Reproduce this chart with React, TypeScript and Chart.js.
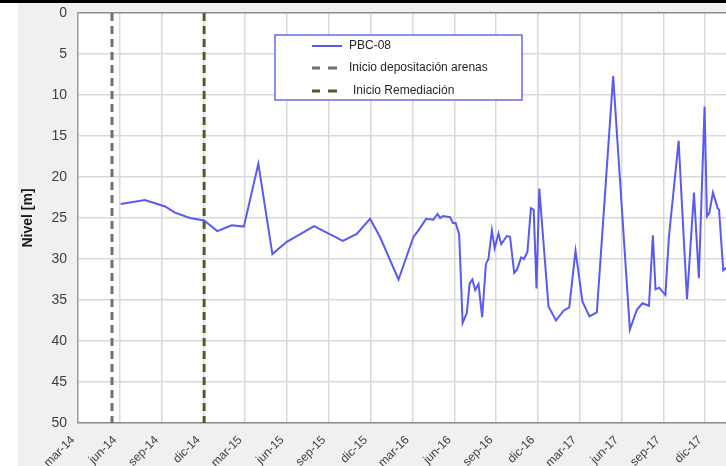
import React, { useEffect, useRef } from "react";
import { Chart, registerables } from "chart.js";

Chart.register(...registerables);

// x values: months elapsed since 1 March 2014
const tickLabels = [
  "mar-14", "jun-14", "sep-14", "dic-14",
  "mar-15", "jun-15", "sep-15", "dic-15",
  "mar-16", "jun-16", "sep-16", "dic-16",
  "mar-17", "jun-17", "sep-17", "dic-17",
];

const months = [
  3.06, 4.8, 6.25, 6.96, 8.04, 9.05, 10.0, 11.03, 11.9, 12.94,
  13.95, 14.98, 15.7, 16.94, 18.45, 19.0, 20.0, 20.96, 21.68, 23.0,
  24.07, 24.43, 24.98, 25.5, 25.8, 25.99, 26.2, 26.7, 26.9, 27.1,
  27.35, 27.6, 27.9, 28.1, 28.3, 28.5, 28.74, 29.0, 29.27, 29.45,
  29.7, 29.9, 30.17, 30.37, 30.77, 31.0, 31.3, 31.5, 31.8, 32.0,
  32.25, 32.5, 32.7, 32.9, 33.1, 33.76, 34.3, 34.84, 35.25, 35.7,
  36.2, 36.7, 37.23, 38.4, 39.6, 40.1, 40.5, 40.97, 41.25, 41.44,
  41.7, 42.15, 42.4, 43.1, 43.3, 43.7, 44.2, 44.55, 44.96, 45.13,
  45.3, 45.56, 45.9, 46.0, 46.3, 46.5, 46.9,
];

const levels = [
  23.3, 22.8, 23.6, 24.35, 25.0, 25.3, 26.6, 25.9, 26.05, 18.4,
  29.4, 27.9, 27.2, 26.0, 27.3, 27.8, 26.95, 25.1, 27.35, 32.5,
  27.3, 26.5, 25.1, 25.2, 24.5, 25.0, 24.75, 24.9, 25.6, 25.6,
  27.0, 37.8, 36.6, 33.0, 32.5, 33.8, 33.05, 37.1, 30.6, 30.0,
  26.5, 28.7, 26.9, 28.2, 27.2, 27.3, 31.7, 31.3, 29.8, 30.0,
  29.1, 23.8, 24.0, 33.6, 21.4, 35.8, 37.5, 36.3, 35.9, 29.0,
  35.2, 37.0, 36.5, 7.7, 38.6, 36.2, 35.4, 35.7, 27.1, 33.7,
  33.5, 34.4, 27.35, 15.6, 22.2, 34.9, 21.9, 32.35, 11.4, 24.8,
  24.4, 21.9, 23.8, 24.0, 31.4, 31.1, 31.0,
];

const depositionStart = [2.44];
const remediationStart = [9.05];
const yRange = [0, 50];
const xRange = [0, 47];

const seriesNames = ["PBC-08", "Inicio depositación arenas", "Inicio Remediación"];

const FONT = "'Liberation Sans', Arial, sans-serif";

const bgPlugin = {
  id: "bgPlugin",
  beforeDraw(chart: any) {
    const { ctx, width, height, chartArea } = chart;
    ctx.save();
    ctx.fillStyle = "#ffffff";
    ctx.fillRect(0, 0, width, height);
    ctx.fillStyle = "#f0f0f0";
    ctx.fillRect(18, 0, width - 18, height);
    ctx.fillStyle = "#000000";
    ctx.fillRect(0, 0, width, 3);
    ctx.fillStyle = "#ffffff";
    ctx.fillRect(chartArea.left, chartArea.top, chartArea.right - chartArea.left, chartArea.bottom - chartArea.top);
    ctx.restore();
  },
};

const legendPlugin = {
  id: "boxLegend",
  afterDraw(chart: any) {
    const { ctx } = chart;
    const bx = 275, by = 35, bw = 247, bh = 65;
    ctx.save();
    ctx.fillStyle = "#ffffff";
    ctx.fillRect(bx, by, bw, bh);
    ctx.strokeStyle = "#6a6aee";
    ctx.lineWidth = 1.5;
    ctx.strokeRect(bx, by, bw, bh);
    const rows = [46, 68, 91];
    const textX = [349, 349, 353];
    chart.data.datasets.forEach((ds: any, i: number) => {
      const y = rows[i];
      ctx.strokeStyle = ds.borderColor;
      ctx.lineWidth = i === 0 ? 2 : 3;
      ctx.setLineDash([]);
      ctx.beginPath();
      if (i === 0) {
        ctx.moveTo(312, y);
        ctx.lineTo(342, y);
      } else {
        ctx.moveTo(312, y);
        ctx.lineTo(320, y);
        ctx.moveTo(328, y);
        ctx.lineTo(337, y);
      }
      ctx.stroke();
      ctx.fillStyle = "#262626";
      ctx.font = `12px ${FONT}`;
      ctx.textBaseline = "middle";
      ctx.textAlign = "left";
      ctx.fillText(ds.label, textX[i], y);
    });
    ctx.restore();
  },
};

export default function App() {
  const canvasRef = useRef<HTMLCanvasElement | null>(null);

  useEffect(() => {
    document.body.style.margin = "0";
    const canvas = canvasRef.current;
    if (!canvas) return;
    const chart = new Chart(canvas, {
      type: "line",
      data: {
        datasets: [
          {
            label: seriesNames[0],
            data: months.map((m, i) => ({ x: m, y: levels[i] })),
            borderColor: "#5a5af0",
            borderWidth: 2,
            pointRadius: 0,
            tension: 0,
          },
          {
            label: seriesNames[1],
            data: [
              { x: depositionStart[0], y: yRange[0] },
              { x: depositionStart[0], y: yRange[1] },
            ],
            borderColor: "#707070",
            borderWidth: 3,
            borderDash: [8, 5],
            pointRadius: 0,
          },
          {
            label: seriesNames[2],
            data: [
              { x: remediationStart[0], y: yRange[0] },
              { x: remediationStart[0], y: yRange[1] },
            ],
            borderColor: "#525c20",
            borderWidth: 3,
            borderDash: [8, 5],
            pointRadius: 0,
          },
        ],
      },
      options: {
        animation: false,
        responsive: false,
        devicePixelRatio: 1,
        layout: { padding: { top: 13, left: 0, right: 27, bottom: 0 } },
        plugins: {
          legend: { display: false },
          tooltip: { enabled: false },
        },
        scales: {
          x: {
            type: "linear",
            min: xRange[0],
            max: xRange[1],
            afterFit: (scale: any) => {
              scale.height = 43;
            },
            grid: { color: "#d9d9d9", lineWidth: 1.5, drawTicks: false },
            border: { color: "#8c8c8c", width: 1.5 },
            ticks: {
              stepSize: 3,
              includeBounds: false,
              autoSkip: false,
              maxRotation: 45,
              minRotation: 45,
              padding: 10,
              labelOffset: -5,
              color: "#404040",
              font: { family: FONT, size: 12 },
              callback: (v: any) => {
                const n = Number(v);
                return n % 3 === 0 ? tickLabels[n / 3] ?? "" : "";
              },
            },
          },
          y: {
            type: "linear",
            reverse: true,
            min: yRange[0],
            max: yRange[1],
            afterFit: (scale: any) => {
              scale.width = 78;
              scale.paddingTop = 0;
              scale.paddingBottom = 0;
            },
            grid: {
              color: (c: any) => (c.tick && c.tick.value === 0 ? "#8c8c8c" : "#d9d9d9"),
              lineWidth: 1.5,
              drawTicks: false,
            },
            border: { color: "#a0a0a0", width: 1.5 },
            ticks: {
              stepSize: 5,
              padding: 11,
              color: "#404040",
              font: { family: FONT, size: 14 },
            },
            title: {
              display: true,
              text: "Nivel [m]",
              color: "#1a1a1a",
              font: { family: FONT, size: 14, weight: "bold" },
              padding: { top: 20, bottom: 0 },
            },
          },
        },
      },
      plugins: [bgPlugin, legendPlugin],
    });
    return () => chart.destroy();
  }, []);

  return (
    <div style={{ width: 726, height: 466, overflow: "hidden", position: "relative" }}>
      <canvas ref={canvasRef} width={760} height={466} style={{ display: "block" }} />
    </div>
  );
}
